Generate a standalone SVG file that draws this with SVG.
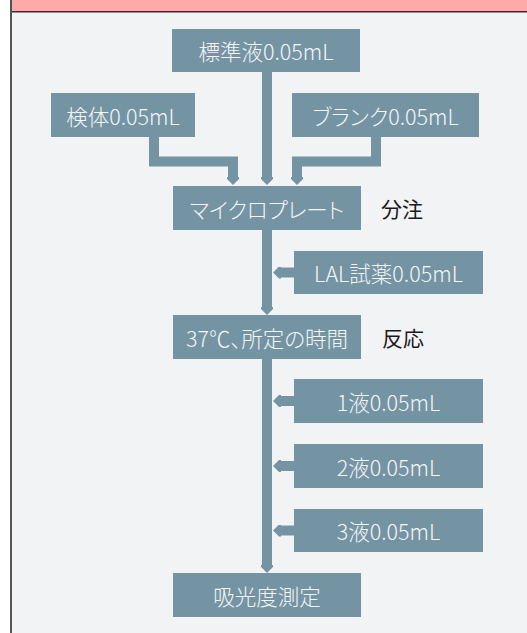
<svg xmlns="http://www.w3.org/2000/svg" width="527" height="633" viewBox="0 0 527 633">
<defs>
<style>
.box{fill:#7594a3;}
.bt{fill:#f3f6f8;font-family:"Noto Sans CJK JP","Noto Sans",sans-serif;font-size:21.5px;font-weight:300;font-feature-settings:"palt";text-anchor:middle;dominant-baseline:central;}
.lb{fill:#1a1a1a;font-family:"Noto Sans CJK JP","Noto Sans",sans-serif;font-size:21px;dominant-baseline:central;}
.ln{fill:none;stroke:#7594a3;stroke-width:10;stroke-linejoin:miter;marker-end:url(#arr);}
</style>
<marker id="arr" viewBox="0 0 8 12" refX="0" refY="6" markerWidth="8" markerHeight="12" markerUnits="userSpaceOnUse" orient="auto">
<path d="M0,0 L2,0 L8,6 L2,12 L0,12 Z" fill="#7594a3"/>
</marker>
</defs>
<rect x="0" y="0" width="527" height="633" fill="#ffffff"/>
<rect x="11" y="0" width="516" height="633" fill="#f2f3f5"/>
<rect x="11" y="0" width="516" height="11" fill="#ffaaaa"/>
<rect x="11" y="11" width="516" height="1.5" fill="#333333"/>
<rect x="10" y="0" width="2" height="633" fill="#555555"/>
<g id="connectors">
<path class="ln" d="M267,72 V177"/>
<path class="ln" d="M154,137 V161.5 H233 V177"/>
<path class="ln" d="M376,137 V161.5 H297 V177"/>
<path class="ln" d="M267,230 V307"/>
<path class="ln" d="M294,272.5 H281"/>
<path class="ln" d="M267,359 V565"/>
<path class="ln" d="M294,401 H281"/>
<path class="ln" d="M294,466 H281"/>
<path class="ln" d="M294,530.5 H281"/>
</g>
<g id="n-standard"><rect class="box" x="172" y="29" width="188" height="43"/><text class="bt" x="266" y="50.5">標準液0.05mL</text></g>
<g id="n-sample"><rect class="box" x="51" y="93" width="144" height="44"/><text class="bt" x="123" y="115">検体0.05mL</text></g>
<g id="n-blank"><rect class="box" x="292" y="93" width="187" height="44"/><text class="bt" x="385.5" y="115">ブランク0.05mL</text></g>
<g id="n-plate"><rect class="box" x="173" y="186" width="188" height="44"/><text class="bt" x="267" y="208">マイクロプレート</text></g>
<text id="l-dispense" class="lb" x="381" y="208">分注</text>
<g id="n-lal"><rect class="box" x="294" y="251" width="189" height="43"/><text class="bt" x="388.5" y="272.5">LAL試薬0.05mL</text></g>
<g id="n-incubate"><rect class="box" x="173" y="315" width="188" height="44"/><text class="bt" x="267" y="337">37℃、所定の時間</text></g>
<text id="l-react" class="lb" x="382" y="337">反応</text>
<g id="n-l1"><rect class="box" x="294" y="379" width="189" height="44"/><text class="bt" x="388.5" y="401">1液0.05mL</text></g>
<g id="n-l2"><rect class="box" x="294" y="444" width="189" height="44"/><text class="bt" x="388.5" y="466">2液0.05mL</text></g>
<g id="n-l3"><rect class="box" x="294" y="509" width="189" height="43"/><text class="bt" x="388.5" y="530.5">3液0.05mL</text></g>
<g id="n-measure"><rect class="box" x="173" y="573" width="188" height="44"/><text class="bt" x="267" y="595">吸光度測定</text></g>
</svg>
